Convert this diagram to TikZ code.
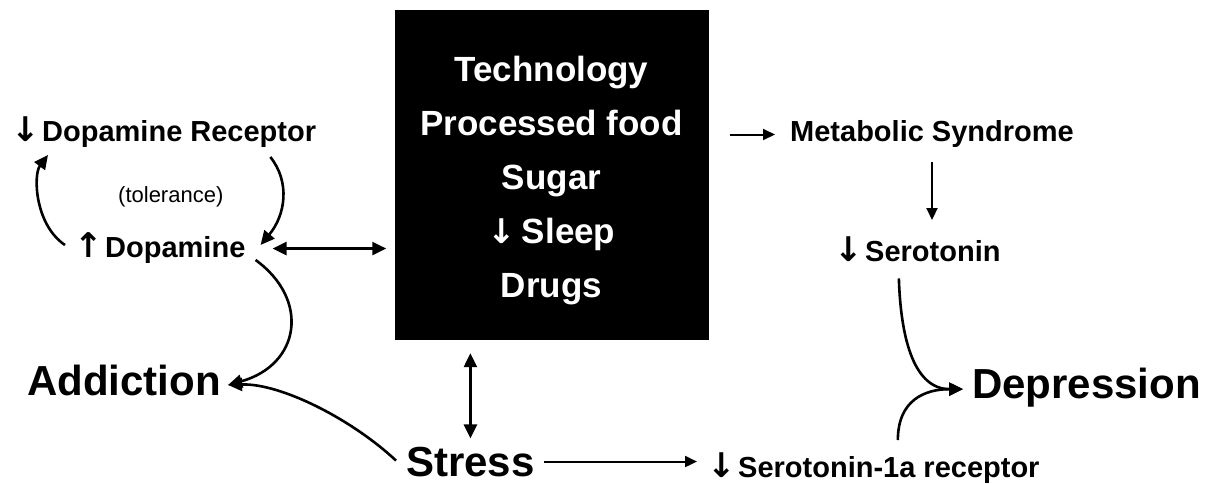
\documentclass[tikz,border=0pt]{standalone}
\usepackage{fontspec}
\setmainfont{Liberation Sans}
\newfontfamily\arrfont{DejaVu Sans}
\newcommand\arrdn{{\arrfont\fontsize{34}{34}\selectfont ↓}}
\newcommand\arrup{{\arrfont\fontsize{34}{34}\selectfont ↑}}
\usetikzlibrary{arrows.meta,calc}
\begin{document}
\begin{tikzpicture}[x=1pt,y=-1pt,
  lbl/.style={inner sep=0pt, font=\fontsize{29}{34}\selectfont\bfseries},
  big/.style={inner sep=0pt, font=\fontsize{42}{48}\selectfont\bfseries},
  con/.style={line width=2.6pt, -{Triangle[length=14pt,width=13pt]}},
  dcon/.style={line width=2.6pt, {Triangle[length=14pt,width=13pt]}-{Triangle[length=14pt,width=13pt]}},
  thin/.style={line width=2pt, -{Triangle[length=12pt,width=11pt]}},
]
\useasboundingbox (0,0) rectangle (1211,484);
\node[fill=black, minimum width=314pt, minimum height=330pt, inner sep=0pt, text=white, align=center,
  font=\fontsize{35}{54}\selectfont\bfseries] (box) at (551.5,175)
  {\rule{0pt}{37pt}Technology\\Processed food\\Sugar\\\arrdn\,Sleep\\Drugs};
\node[lbl, anchor=base west] (dr) at (42,142) {\llap{\arrdn\hspace{2pt}}Dopamine Receptor};
\node[anchor=base west, inner sep=0pt, font=\fontsize{22}{26}\selectfont] (tol) at (118,203) {(tolerance)};
\node[lbl, anchor=base west] (da) at (105,258) {\llap{\arrup\hspace{2pt}}Dopamine};
\node[big, anchor=base west] (add) at (27,395) {Addiction};
\node[big, anchor=base west] (st) at (406,476) {Stress};
\node[lbl, anchor=base west] (s1a) at (738,477) {\llap{\arrdn\hspace{2pt}}Serotonin-1a receptor};
\node[lbl, anchor=base west] (ms) at (790,142) {Metabolic Syndrome};
\node[lbl, anchor=base west] (ser) at (865,261) {\llap{\arrdn\hspace{2pt}}Serotonin};
\node[big, anchor=base west] (dep) at (972,398) {Depression};

% tolerance loop
\draw[con] ($(dr.base east)+(-46,15)$) .. controls +(20,25) and +(25,-30) .. ($(da.base east)+(15,-13)$);
\draw[con] ($(da.base west)+(-40,-13)$) .. controls +(-30,-20) and +(-15,20) .. ($(dr.base west)+(6,13)$);
% dopamine <-> box
\draw[dcon, shorten <=27pt, shorten >=8pt] (da.east) -- (box.west |- da.east);
% dopamine -> addiction
\draw[con] ($(da.base east)+(10,2)$) .. controls +(55,40) and +(72,-20) .. ($(add.east)+(7,5)$);
% stress -> addiction
\draw[con] ($(st.west)+(-10,-1)$) .. controls +(-45,-42) and +(52,-2) .. ($(add.east)+(7,5)$);
% box <-> stress
\draw[dcon, shorten <=13pt, shorten >=8pt] (box.south -| st.north) -- (st.north);
% stress -> serotonin-1a
\draw[thin, shorten <=9pt, shorten >=41pt] (st.east) -- (st.east -| s1a.west);
% box -> metabolic
\draw[thin, shorten <=21pt, shorten >=15pt] (box.east |- ms.west) -- (ms.west);
% metabolic -> serotonin
\draw[thin, shorten <=14pt, shorten >=16pt] (ms.south) -- (ms.south |- ser.north);
% serotonin -> depression
\draw[con] ($(ser.south)+(-34,17)$) .. controls +(2,63) and +(-48,0) .. ($(dep.west)+(-9,2)$);
\draw[con] ($(s1a.north)+(9,-12)$) .. controls +(0,-40) and +(-38,0) .. ($(dep.west)+(-9,2)$);
\end{tikzpicture}
\end{document}
